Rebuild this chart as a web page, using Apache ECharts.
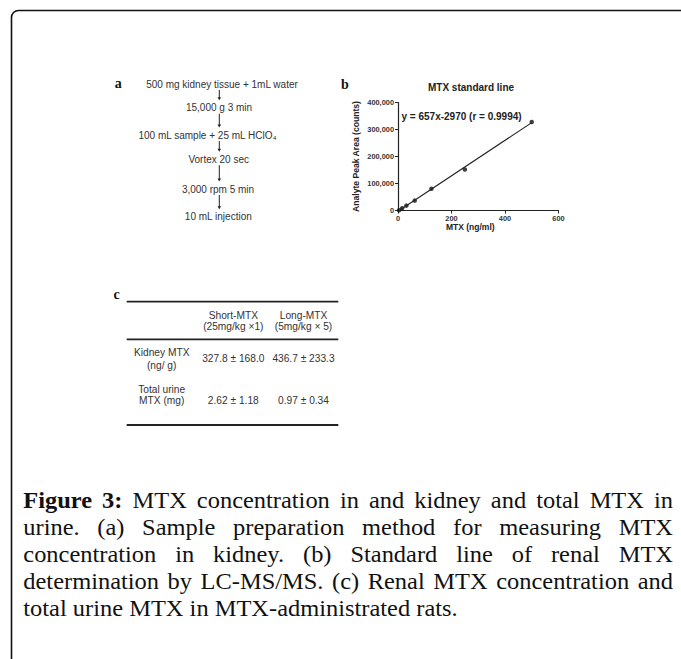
<!DOCTYPE html>
<html>
<head>
<meta charset="utf-8">
<script src="https://cdn.jsdelivr.net/npm/echarts@6/dist/echarts.min.js"></script>
<style>
  html, body { margin: 0; padding: 0; background: #fff; }
  #chart { width: 681px; height: 659px; }
</style>
</head>
<body>
<div id="chart"></div>
<script>
// ── panel a: sample preparation steps ────────────────────
const prepSteps = [
  '500 mg kidney tissue + 1mL water',
  '15,000 g 3 min',
  '100 mL sample + 25 mL HClO₄',
  'Vortex 20 sec',
  '3,000 rpm 5 min',
  '10 mL injection',
]

// ── panel b: MTX standard line ───────────────────────────
const mtxConc   = [3.9, 15.6, 31.25, 62.5, 125, 250, 500]
const peakArea  = [1000, 8500, 18000, 36500, 80500, 152000, 328000]
const fitConc   = [4.5, 500]
const fitArea   = [0, 325530]
const fitLabel  = 'y = 657x-2970 (r = 0.9994)'

// ── panel c: table ───────────────────────────────────────
const groups     = ['Short-MTX', 'Long-MTX']
const doses      = ['(25mg/kg ×1)', '(5mg/kg × 5)']
const kidneyMean = [327.8, 436.7]
const kidneySd   = [168.0, 233.3]
const urineMean  = [2.62, 0.97]
const urineSd    = [1.18, 0.34]

// ── caption ──────────────────────────────────────────────
const captionBold  = 'Figure 3:'
const captionLines = [
  'MTX concentration in and kidney and total MTX in',
  'urine. (a) Sample preparation method for measuring MTX',
  'concentration in kidney. (b) Standard line of renal MTX',
  'determination by LC-MS/MS. (c) Renal MTX concentration and',
  'total urine MTX in MTX-administrated rats.',
]

// ── layout / style ───────────────────────────────────────
const SANS  = '"Liberation Sans", Arial, sans-serif'
const SERIF = '"Liberation Serif", "Times New Roman", serif'
const INK   = '#222'
const TXT   = '#333'

const stepX = [222, 219, 207.5, 218.7, 218, 218.3]
const stepY = [84, 107.7, 135, 159.3, 189, 216.7]
const arrowX = 219.3

const measureCtx = document.createElement('canvas').getContext('2d')
function textW(s, font) { measureCtx.font = font; return measureCtx.measureText(s).width }

function txt(x, y, text, font, fill, align, sx) {
  return {
    type: 'text', x, y, silent: true, scaleX: sx || 1,
    style: {
      text, font, fill: fill || TXT,
      align: align || 'center', textAlign: align || 'center',
      verticalAlign: 'middle', textVerticalAlign: 'middle',
    },
  }
}
function hline(x1, x2, y, w, color) {
  return { type: 'line', silent: true, shape: { x1, y1: y, x2, y2: y },
    style: { stroke: color || INK, lineWidth: w || 1 } }
}

const elements = []

// frame (top + left edges with rounded corner)
elements.push({
  type: 'rect', silent: true,
  shape: { x: 11.5, y: 10.5, width: 1000, height: 1000, r: [7, 0, 0, 0] },
  style: { fill: 'none', stroke: '#111', lineWidth: 1.6 },
})

// panel letters
const letterFont = 'bold 14px ' + SERIF
elements.push(txt(118.3, 83.5, 'a', letterFont, '#111'))
elements.push(txt(345, 84.5, 'b', letterFont, '#111'))
elements.push(txt(116.7, 294.5, 'c', letterFont, '#111'))

// panel a
const stepFont = '10px ' + SANS
prepSteps.forEach((s, i) => {
  elements.push(txt(stepX[i], stepY[i], s, stepFont))
  if (i < prepSteps.length - 1) {
    const y1 = stepY[i] + 6, y2 = stepY[i + 1] - 7.5
    elements.push({ type: 'line', silent: true,
      shape: { x1: arrowX, y1, x2: arrowX, y2: y2 - 2 },
      style: { stroke: INK, lineWidth: 1 } })
    elements.push({ type: 'polygon', silent: true,
      shape: { points: [[arrowX - 1.8, y2 - 3], [arrowX + 1.8, y2 - 3], [arrowX, y2]] },
      style: { fill: INK } })
  }
})

// panel b texts
elements.push(txt(471, 87, 'MTX standard line', 'bold 10px ' + SANS, '#222'))
elements.push(txt(401.5, 116.5, fitLabel, 'bold 10px ' + SANS, '#222', 'left'))

// panel c table
const ruleL = 126.7, ruleR = 338.3
const colX = [233.3, 303.5], labX = 161.7
const cellFont = '10.2px ' + SANS
elements.push(hline(ruleL, ruleR, 301.7, 1.8))
elements.push(hline(ruleL, ruleR, 339.3, 1.8))
elements.push(hline(ruleL, ruleR, 425, 1.8))
groups.forEach((g, i) => {
  elements.push(txt(colX[i], 315, g, cellFont))
  elements.push(txt(colX[i], 326.7, doses[i], cellFont))
  elements.push(txt(colX[i], 358.5, kidneyMean[i].toFixed(1) + ' ± ' + kidneySd[i].toFixed(1), cellFont))
  elements.push(txt(colX[i], 400.7, urineMean[i].toFixed(2) + ' ± ' + urineSd[i].toFixed(2), cellFont))
})
elements.push(txt(labX, 352.7, 'Kidney MTX', cellFont))
elements.push(txt(labX, 365, '(ng/ g)', cellFont))
elements.push(txt(labX, 389, 'Total urine', cellFont))
elements.push(txt(labX, 400.7, 'MTX (mg)', cellFont))

// caption, justified word by word (slightly widened serif)
const capL = 23.3, capR = 673, capTop = 500, capStep = 27, capSx = 1.04
const capReg  = '23.5px ' + SERIF
const capBold = 'bold 23.5px ' + SERIF
captionLines.forEach((line, li) => {
  const words = line.split(' ').map(w => ({ w, font: capReg }))
  if (li === 0) words.unshift(...captionBold.split(' ').map(w => ({ w, font: capBold })))
  const widths = words.map(o => textW(o.w, o.font) * capSx)
  const sum = widths.reduce((a, b) => a + b, 0)
  const last = li === captionLines.length - 1
  const gap = last ? textW(' ', capReg) * capSx : (capR - capL - sum) / (words.length - 1)
  let x = capL
  words.forEach((o, wi) => {
    elements.push(txt(x, capTop + li * capStep, o.w, o.font, '#111', 'left', capSx))
    x += widths[wi] + gap
  })
})

const axisText = { color: TXT, fontSize: 7.4, fontWeight: 'bold', fontFamily: SANS }

const chart = echarts.init(document.getElementById('chart'), null, { renderer: 'svg' })
chart.setOption({
  backgroundColor: '#fff',
  animation: false,
  grid: { left: 398, right: 122.5, top: 102.5, bottom: 448.5, outerBoundsMode: 'none' },
  xAxis: {
    type: 'value', min: 0, max: 600, interval: 200,
    axisLine: { show: true, onZero: false, lineStyle: { color: INK, width: 1.2 } },
    axisTick: { show: true, length: 3, lineStyle: { color: INK } },
    axisLabel: { ...axisText, margin: 4 },
    splitLine: { show: false },
    name: 'MTX (ng/ml)', nameLocation: 'middle', nameGap: 10,
    nameTextStyle: { color: '#222', fontSize: 8.5, fontWeight: 'bold', fontFamily: SANS, padding: [0, 16, 0, 0] },
  },
  yAxis: {
    type: 'value', min: 0, max: 400000, interval: 100000,
    axisLine: { show: true, lineStyle: { color: INK, width: 1.2 } },
    axisTick: { show: true, length: 3, lineStyle: { color: INK } },
    axisLabel: { ...axisText, margin: 4, formatter: v => v.toLocaleString('en-US') },
    splitLine: { show: false },
    name: 'Analyte Peak Area (counts)', nameLocation: 'middle', nameGap: 38,
    nameTextStyle: { color: '#222', fontSize: 8.6, fontWeight: 'bold', fontFamily: SANS },
  },
  series: [
    { type: 'line', data: fitConc.map((x, i) => [x, fitArea[i]]), symbol: 'none', silent: true,
      lineStyle: { color: INK, width: 1.1 } },
    { type: 'scatter', data: mtxConc.map((x, i) => [x, peakArea[i]]), symbol: 'circle', symbolSize: 4.5,
      itemStyle: { color: '#111' } },
  ],
  graphic: { elements },
})
</script>
</body>
</html>
